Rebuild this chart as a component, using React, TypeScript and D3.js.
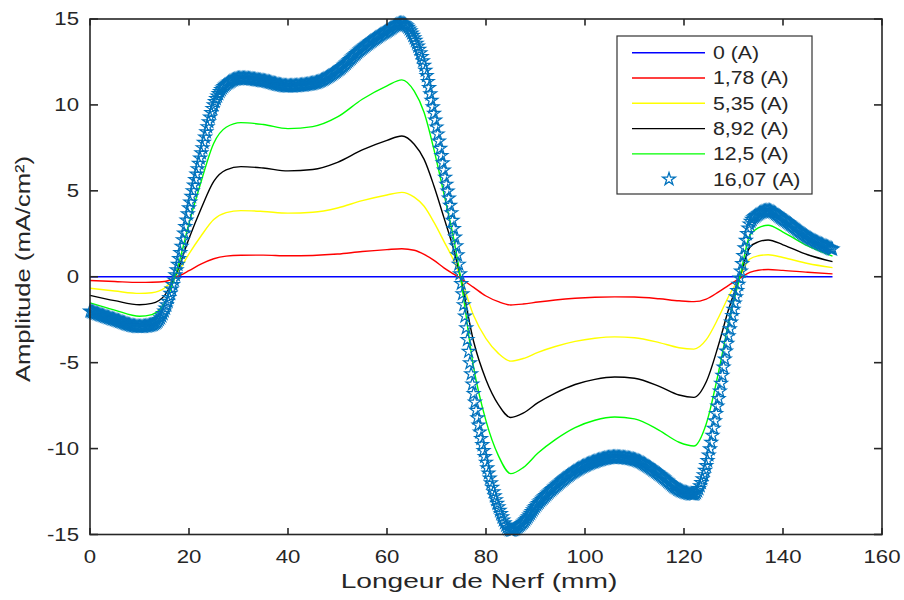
import React from "react";
import * as d3 from "d3";

// ---------- data ----------
const xs = [0, 5, 10, 12.5, 15, 17.5, 20, 22.5, 25, 27.5, 30.5, 35, 40, 45, 50, 55, 60, 63, 65.5, 67.5, 69.5, 71.5, 73.5, 75, 77.5, 80, 82.5, 85, 87.5, 90.5, 94, 98, 102, 106, 110, 115, 119, 122, 124.5, 127, 129, 131.3, 133.3, 135, 137, 140, 145, 150];

const s0 = xs.map(() => 0);
const s178 = [-0.22, -0.28, -0.33, -0.32, -0.28, -0.02, 0.35, 0.75, 1.05, 1.2, 1.25, 1.26, 1.22, 1.24, 1.32, 1.47, 1.58, 1.63, 1.54, 1.3, 0.95, 0.52, 0.15, -0.12, -0.62, -1.12, -1.45, -1.64, -1.59, -1.47, -1.35, -1.25, -1.19, -1.17, -1.18, -1.28, -1.4, -1.45, -1.3, -0.88, -0.5, -0.08, 0.25, 0.38, 0.42, 0.37, 0.26, 0.17];
const s535 = [-0.67, -0.83, -0.97, -0.93, -0.67, 0.13, 1.33, 2.4, 3.33, 3.73, 3.85, 3.8, 3.7, 3.75, 4.0, 4.43, 4.76, 4.91, 4.63, 4.1, 3.16, 2.06, 0.93, -0.13, -2.26, -3.6, -4.46, -4.91, -4.76, -4.4, -4.06, -3.76, -3.58, -3.5, -3.55, -3.83, -4.13, -4.21, -3.66, -2.36, -1.15, 0, 1.03, 1.22, 1.28, 1.12, 0.77, 0.53];
const s892 = [-1.08, -1.39, -1.63, -1.55, -1.11, 0.22, 2.22, 4.0, 5.55, 6.22, 6.41, 6.33, 6.16, 6.24, 6.66, 7.38, 7.94, 8.19, 7.71, 6.83, 5.27, 3.44, 1.55, -0.22, -3.77, -5.99, -7.44, -8.19, -7.94, -7.33, -6.77, -6.27, -5.97, -5.83, -5.91, -6.38, -6.88, -7.02, -6.11, -3.94, -1.91, 0, 1.72, 2.03, 2.14, 1.86, 1.28, 0.88];
const s125 = [-1.52, -1.94, -2.3, -2.2, -1.55, 0.31, 3.11, 5.59, 7.77, 8.7, 8.97, 8.86, 8.62, 8.74, 9.3, 10.33, 11.11, 11.46, 10.8, 9.56, 7.38, 4.82, 2.18, -0.31, -5.28, -8.39, -10.41, -11.46, -11.11, -10.26, -9.48, -8.78, -8.35, -8.16, -8.27, -8.94, -9.63, -9.85, -8.55, -5.52, -2.68, 0, 2.41, 2.84, 3.0, 2.6, 1.79, 1.2];
const s1607 = [-2.0, -2.5, -2.9, -2.8, -2.0, 0.4, 4.0, 7.2, 10.0, 11.2, 11.55, 11.4, 11.1, 11.25, 12.0, 13.3, 14.3, 14.75, 13.9, 12.3, 9.5, 6.2, 2.8, -0.4, -6.8, -10.8, -13.4, -14.75, -14.3, -13.2, -12.2, -11.3, -10.75, -10.5, -10.65, -11.5, -12.4, -12.65, -11.0, -7.1, -3.45, 0, 3.1, 3.65, 3.85, 3.35, 2.3, 1.6];

const lineSeries = [
  { label: "0 (A)", values: s0, color: "#0000ff" },
  { label: "1,78 (A)", values: s178, color: "#ff0000" },
  { label: "5,35 (A)", values: s535, color: "#ffff00" },
  { label: "8,92 (A)", values: s892, color: "#000000" },
  { label: "12,5 (A)", values: s125, color: "#00ff00" },
];
const starLabel = "16,07 (A)";
const starColor = "#0072bd";

const xTicks = [0, 20, 40, 60, 80, 100, 120, 140, 160];
const yTicks = [-15, -10, -5, 0, 5, 10, 15];
const xTitle = "Longeur de Nerf (mm)";
const yTitle = "Amplitude (mA/cm²)";

// ---------- layout ----------
const W = 904, H = 600;
const L = 90, R = 882, T = 19, B = 534.5;
const FONT = "'Liberation Sans', Arial, Helvetica, sans-serif";
const AX = "#262626";

const x = d3.scaleLinear().domain([0, 160]).range([L, R]);
const y = d3.scaleLinear().domain([-15, 15]).range([B, T]);

// evaluate the same monotone curve d3.curveMonotoneX draws (for marker placement)
function monotoneEval(px: number[], py: number[]) {
  const n = px.length;
  const sign = (v: number) => (v < 0 ? -1 : 1);
  const m = new Array(n).fill(0);
  for (let i = 1; i < n - 1; i++) {
    const h0 = px[i] - px[i - 1], h1 = px[i + 1] - px[i];
    const a = (py[i] - py[i - 1]) / h0, b = (py[i + 1] - py[i]) / h1;
    const p = (a * h1 + b * h0) / (h0 + h1);
    m[i] = (sign(a) + sign(b)) * Math.min(Math.abs(a), Math.abs(b), 0.5 * Math.abs(p)) || 0;
  }
  m[0] = (3 * (py[1] - py[0]) / (px[1] - px[0]) - m[1]) / 2;
  m[n - 1] = (3 * (py[n - 1] - py[n - 2]) / (px[n - 1] - px[n - 2]) - m[n - 2]) / 2;
  return (xv: number) => {
    let i = 0;
    while (i < n - 2 && xv > px[i + 1]) i++;
    const h = px[i + 1] - px[i];
    const t = (xv - px[i]) / h;
    const t2 = t * t, t3 = t2 * t;
    return (2 * t3 - 3 * t2 + 1) * py[i] + (t3 - 2 * t2 + t) * h * m[i] + (-2 * t3 + 3 * t2) * py[i + 1] + (t3 - t2) * h * m[i + 1];
  };
}

function STxt({ x: tx, y: ty, sx = 1, rot = 0, anchor = "middle", size = 18.5, children }: any) {
  return (
    <g transform={`translate(${tx},${ty}) rotate(${rot}) scale(${sx},1)`}>
      <text textAnchor={anchor} dominantBaseline="central" fontFamily={FONT} fontSize={size} fill={AX}>
        {children}
      </text>
    </g>
  );
}

export default function App() {
  const line = d3
    .line<number>()
    .x((_, i) => x(xs[i]))
    .y((v) => y(v))
    .curve(d3.curveMonotoneX);

  const starPath = d3.symbol().type(d3.symbolStar).size(50)() as string;
  const f = monotoneEval(xs, s1607);
  const markerXs = d3.range(0, 150.0001, 0.25);
  const markers = markerXs.map((mx) => [x(mx), y(f(mx))]);

  const tickLenX = 6.5, tickLenY = 8;
  const legX = 617, legY = 36, legW = 195, legH = 158;
  const rowY = (i: number) => legY + 16.7 + i * 25.3;

  return (
    <svg width={W} height={H} style={{ position: "absolute", left: 0, top: 0, background: "#fff" }}>
      <rect x={0} y={0} width={W} height={H} fill="#fff" />
      {/* series */}
      <g>
        {lineSeries.map((s) => (
          <path key={s.label} d={line(s.values) as string} fill="none" stroke={s.color} strokeWidth={1.4} />
        ))}
        <g fill="none" stroke={starColor} strokeWidth={1.2}>
          {markers.map(([mx, my], i) => (
            <path key={i} d={starPath} transform={`translate(${mx},${my})`} />
          ))}
        </g>
      </g>
      {/* axes box */}
      <g stroke={AX} strokeWidth={1.6} fill="none">
        <rect x={L} y={T} width={R - L} height={B - T} />
        {xTicks.map((t) => (
          <g key={"xt" + t}>
            <line x1={x(t)} x2={x(t)} y1={B} y2={B - tickLenX} />
            <line x1={x(t)} x2={x(t)} y1={T} y2={T + tickLenX} />
          </g>
        ))}
        {yTicks.map((t) => (
          <g key={"yt" + t}>
            <line x1={L} x2={L + tickLenY} y1={y(t)} y2={y(t)} />
            <line x1={R} x2={R - tickLenY} y1={y(t)} y2={y(t)} />
          </g>
        ))}
      </g>
      {xTicks.map((t) => (
        <STxt key={"xl" + t} x={x(t)} y={557} sx={1.2}>
          {t}
        </STxt>
      ))}
      {yTicks.map((t) => (
        <STxt key={"yl" + t} x={79} y={y(t)} sx={1.2} anchor="end">
          {t}
        </STxt>
      ))}
      <STxt x={479} y={581} sx={1.34} size={21}>
        {xTitle}
      </STxt>
      <STxt x={23} y={269} rot={-90} sx={1.28} size={20}>
        {yTitle}
      </STxt>
      {/* legend */}
      <g>
        <rect x={legX} y={legY} width={legW} height={legH} fill="#fff" stroke="#333" strokeWidth={1.2} />
        {lineSeries.map((s, i) => (
          <g key={"lg" + s.label}>
            <line x1={632} x2={705} y1={rowY(i)} y2={rowY(i)} stroke={s.color} strokeWidth={1.4} />
            <STxt x={713} y={rowY(i)} sx={1.15} anchor="start">
              {s.label}
            </STxt>
          </g>
        ))}
        <path d={starPath} transform={`translate(669,${rowY(5)})`} fill="none" stroke={starColor} strokeWidth={1.3} />
        <STxt x={713} y={rowY(5)} sx={1.15} anchor="start">
          {starLabel}
        </STxt>
      </g>
    </svg>
  );
}
